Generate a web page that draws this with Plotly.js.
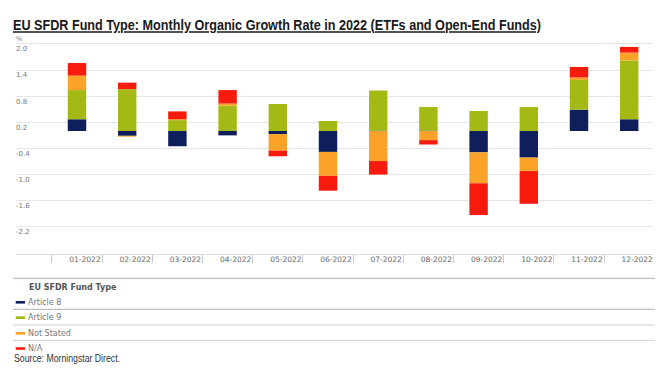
<!DOCTYPE html>
<html>
<head>
<meta charset="utf-8">
<script src="https://cdn.plot.ly/plotly-3.0.1.min.js"></script>
<style>html,body{margin:0;padding:0;background:#fff;}#chart{width:672px;height:379px;}</style>
</head>
<body>
<div id="chart"></div>
<script>
// ---- data ----
const months = ["01-2022","02-2022","03-2022","04-2022","05-2022","06-2022","07-2022","08-2022","09-2022","10-2022","11-2022","12-2022"];
const seriesNames = ["Article 8","Article 9","Not Stated","N/A"];
const article8  = [0.27,-0.11,-0.35,-0.10,-0.07,-0.48, 0.01, 0.01,-0.49,-0.61,0.49,0.27];
const article9  = [0.67, 0.96, 0.25, 0.58, 0.62, 0.23, 0.92, 0.54, 0.46, 0.55,0.68,1.35];
const notStated = [0.33,-0.02, 0.02, 0.05,-0.38,-0.55,-0.69,-0.21,-0.71,-0.31,0.06,0.18];
const naValues  = [0.29, 0.15, 0.18, 0.31,-0.13,-0.34,-0.31,-0.10,-0.73,-0.75,0.24,0.13];
const yTickVals = [2.0,1.4,0.8,0.2,-0.4,-1.0,-1.6,-2.2];
const yTickText = ["2.0","1.4","0.8","0.2","-0.4","-1.0","-1.6","-2.2"];
const colors = ["#0e1f5b","#a4b914","#fba328","#f61b0c"];
const allSeries = [article8, article9, notStated, naValues];

// ---- layout helpers ----
const M = {l:16, r:19, t:42, b:125};
const W = 672 - M.l - M.r, H = 379 - M.t - M.b;
const px2x = p => (p - M.l) / W;
const py2y = p => (379 - M.b - p) / H;

const traces = allSeries.map((vals, i) => ({
  type: 'bar', x: months, y: vals, name: seriesNames[i],
  marker: {color: colors[i], line: {width: 0}},
  hoverinfo: 'skip', showlegend: false
}));

const annotations = [];
const shapes = [];
// % unit label
annotations.push({xref:'paper', yref:'paper', x:px2x(14), y:py2y(39.5), text:'%', showarrow:false,
  xanchor:'left', yanchor:'middle', font:{family:'DejaVu Sans', size:6.5, color:'#777'}});
// legend header
annotations.push({xref:'paper', yref:'paper', x:px2x(26.5), y:py2y(287), text:'<b>EU SFDR Fund Type</b>', showarrow:false,
  xanchor:'left', yanchor:'middle', font:{family:'DejaVu Sans', size:8, color:'#555'}});
// legend separator lines
[278.3, 309.3, 325, 340.3].forEach((yy, k) => {
  shapes.push({type:'line', xref:'paper', yref:'paper', x0:px2x(13), x1:px2x(655), y0:py2y(yy), y1:py2y(yy),
    line:{color: k < 2 ? '#b0b0b0' : '#cfcfcf', width:1}});
});
// legend items
const itemY = [302.3, 317.7, 333.3, 348.5];
seriesNames.forEach((nm, i) => {
  shapes.push({type:'rect', xref:'paper', yref:'paper', x0:px2x(15.7), x1:px2x(25), y0:py2y(itemY[i]-1.3), y1:py2y(itemY[i]+1.3),
    fillcolor:colors[i], line:{width:0}});
  annotations.push({xref:'paper', yref:'paper', x:px2x(26), y:py2y(itemY[i]), text:nm, showarrow:false,
    xanchor:'left', yanchor:'middle', font:{family:'DejaVu Sans', size:8, color:'#777'}});
});
// source
annotations.push({xref:'paper', yref:'paper', x:px2x(12), y:py2y(358.5), text:'Source: Morningstar Direct.', showarrow:false,
  xanchor:'left', yanchor:'middle', align:'left', font:{family:'Liberation Sans, Arial, sans-serif', size:10, color:'#333'}});

const layout = {
  width: 672, height: 379,
  margin: M,
  paper_bgcolor: '#fff', plot_bgcolor: '#fff',
  barmode: 'relative', bargap: 0.633,
  title: {
    text: '<u>EU SFDR Fund Type: Monthly Organic Growth Rate in 2022 (ETFs and Open-End Funds)</u>',
    x: 13/672, xanchor: 'left', xref: 'container',
    y: 1 - 25/379, yanchor: 'middle', yref: 'container',
    font: {family: 'Liberation Sans, Arial, sans-serif', size: 15, weight: 'bold', color: '#1a1a1a'}
  },
  xaxis: {
    type: 'category', range: [-1.215, 11.474], fixedrange: true,
    showgrid: false, zeroline: false,
    showline: true, linecolor: '#dcdcdc', linewidth: 1,
    ticks: 'outside', tickson: 'boundaries', ticklen: 8, tickcolor: '#cccccc', tickwidth: 1,
    ticklabelshift: 8, ticklabelstandoff: -2,
    tickfont: {family: 'DejaVu Sans', size: 7.5, color: '#666'}
  },
  yaxis: {
    range: [-2.823, 2.043], fixedrange: true,
    tickmode: 'array', tickvals: yTickVals, ticktext: yTickText,
    showgrid: true, gridcolor: '#e6e6e6', gridwidth: 1,
    zeroline: false, showline: false, ticks: '',
    ticklabelposition: 'inside bottom', ticklabelstandoff: -3,
    tickfont: {family: 'DejaVu Sans', size: 7, color: '#777'}
  },
  annotations: annotations,
  shapes: shapes
};

function squeeze(el, len) {
  if (!el) return;
  el.setAttribute('textLength', len);
  el.setAttribute('lengthAdjust', 'spacingAndGlyphs');
}

Plotly.newPlot('chart', traces, layout, {staticPlot: true, displayModeBar: false}).then(gd => {
  // condensed fonts are not installed: compress the text horizontally to the reference width
  squeeze(gd.querySelector('.gtitle'), 528);
  const src = Array.from(gd.querySelectorAll('text.annotation-text')).find(t => t.textContent.indexOf('Source') === 0);
  squeeze(src, 106);
});
</script>
</body>
</html>
